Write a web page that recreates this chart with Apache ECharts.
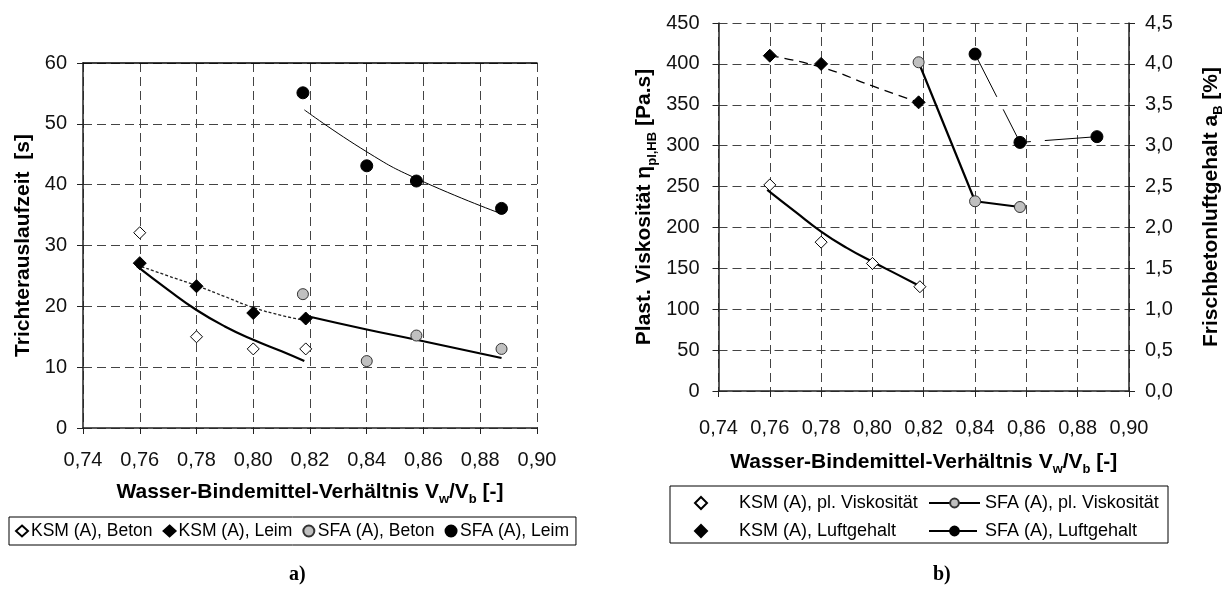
<!DOCTYPE html>
<html>
<head>
<meta charset="utf-8">
<script src="https://cdn.jsdelivr.net/npm/echarts@6/dist/echarts.min.js"></script>
<style>html,body{margin:0;padding:0;background:#fff;}#c{width:1226px;height:596px;}</style>
</head>
<body>
<div id="c"></div>
<script>
// ---- Data ----
// x positions (water-binder ratio)
var xKsm = [0.76, 0.78, 0.80, 0.8185];
var xSfa = [0.8175, 0.84, 0.8575, 0.8875];
var xKsmLuft = [0.76, 0.78, 0.818];
var xSfaVisk = [0.818, 0.84, 0.8575];
var xSfaLuft = [0.84, 0.8575, 0.8875];

// Chart a) Trichterauslaufzeit [s]
var ksmBeton = [32.1, 15.0, 13.0, 13.0];
var ksmLeim = [27.1, 23.3, 18.9, 18.0];
var sfaBeton = [22.0, 11.0, 15.2, 13.0];
var sfaLeim = [55.1, 43.1, 40.6, 36.1];

// trend lines a)
var xKsmTrend = [0.759, 0.77, 0.78, 0.79, 0.80, 0.81, 0.818];
var ksmBetonTrend = [26.6, 22.7, 19.4, 16.7, 14.5, 12.6, 11.0];
var ksmLeimTrend = [26.8, 25.0, 23.4, 21.6, 19.8, 18.5, 17.7];
var xSfaTrend = [0.818, 0.84, 0.8575, 0.8875];
var sfaBetonTrend = [18.5, 16.2, 14.5, 11.5];
var sfaLeimTrend = [52.3, 45.4, 41.0, 35.2];

// Chart b)
var ksmVisk = [252, 182, 156, 127.5];
var ksmViskTrend = [246, 219, 195, 175, 158, 142, 129];
var ksmLuft = [4.1, 4.0, 3.53];
var xKsmLuftTrend = [0.76, 0.78, 0.80, 0.818];
var ksmLuftTrend = [4.1, 3.96, 3.73, 3.53];
var sfaVisk = [402, 232, 225];
var sfaLuft = [4.12, 3.04, 3.11];

// tick settings
var xMin = 0.74, xMax = 0.90, xStep = 0.02;
var yAMax = 60, yAStep = 10;
var yBMax = 450, yBStep = 50;
var yB2Max = 4.5, yB2Step = 0.5;

function pairs(xs, ys) { return xs.map(function (x, i) { return [x, ys[i]]; }); }

var FONT = "'Liberation Sans', Arial, sans-serif";
var fmtX = function (v) { return v.toFixed(2).replace('.', ','); };
var fmtY1 = function (v) { return v.toFixed(1).replace('.', ','); };

var subRich = {
  s: { fontSize: 13, fontWeight: 'bold', fontFamily: FONT, color: '#000', verticalAlign: 'bottom', lineHeight: 16 }
};
var nameStyle = { fontSize: 21, fontWeight: 'bold', fontFamily: FONT, color: '#000', lineHeight: 28, rich: subRich };

var gridLine = { show: true, lineStyle: { color: '#444', type: [9, 5], width: 1 } };
var tickFont = { fontSize: 20, fontFamily: FONT, color: '#111' };

function xAxisDef(gridIndex, nameGap, labelMargin) {
  return {
    type: 'value', gridIndex: gridIndex, min: xMin, max: xMax, interval: xStep,
    name: 'Wasser-Bindemittel-Verhältnis V{s|w}/V{s|b} [-]',
    nameLocation: 'middle', nameGap: nameGap, nameTextStyle: nameStyle,
    axisLine: { show: true, onZero: false, lineStyle: { color: '#222', width: 1.5 } },
    axisTick: { show: true, length: 6, lineStyle: { color: '#222' } },
    axisLabel: Object.assign({ formatter: fmtX, margin: labelMargin, showMinLabel: true, showMaxLabel: true }, tickFont),
    splitLine: gridLine
  };
}

var option = {
  animation: false,
  backgroundColor: '#fff',
  grid: [
    { left: 83, top: 63, width: 454, height: 365 },
    { left: 718.5, top: 23, width: 414.5, height: 368 }
  ],
  xAxis: [
    xAxisDef(0, 50, 22),
    xAxisDef(1, 57, 27),
    { type: 'value', gridIndex: 0, position: 'top', min: xMin, max: xMax, interval: xStep,
      axisLine: { show: true, onZero: false, lineStyle: { color: '#000', width: 1.5 } },
      axisTick: { show: false }, axisLabel: { show: false }, splitLine: { show: false } }
  ],
  yAxis: [
    { type: 'value', gridIndex: 0, min: 0, max: yAMax, interval: yAStep,
      name: 'Trichterauslaufzeit  [s]', nameLocation: 'middle', nameRotate: 90, nameGap: 46, nameTextStyle: nameStyle,
      axisLine: { show: true, lineStyle: { color: '#222', width: 1.5 } },
      axisTick: { show: true, length: 6, lineStyle: { color: '#222' } },
      axisLabel: Object.assign({ margin: 16 }, tickFont),
      splitLine: gridLine },
    { type: 'value', gridIndex: 1, min: 0, max: yBMax, interval: yBStep,
      name: 'Plast. Viskosität η{s|pl,HB} [Pa.s]', nameLocation: 'middle', nameRotate: 90, nameGap: 60, nameTextStyle: nameStyle,
      axisLine: { show: true, lineStyle: { color: '#222', width: 1.5 } },
      axisTick: { show: true, length: 6, lineStyle: { color: '#222' } },
      axisLabel: Object.assign({ margin: 19 }, tickFont),
      splitLine: gridLine },
    { type: 'value', gridIndex: 1, position: 'right', min: 0, max: yB2Max, interval: yB2Step,
      name: 'Frischbetonluftgehalt a{s|B} [%]', nameLocation: 'middle', nameRotate: 90, nameGap: 68, nameTextStyle: nameStyle,
      axisLine: { show: true, lineStyle: { color: '#222', width: 1.5 } },
      axisTick: { show: true, length: 6, lineStyle: { color: '#222' } },
      axisLabel: Object.assign({ formatter: fmtY1, margin: 16 }, tickFont),
      splitLine: { show: false } }
  ],
  legend: [
    { data: ['KSM (A), Beton', 'KSM (A), Leim', 'SFA (A), Beton', 'SFA (A), Leim'],
      orient: 'horizontal', left: 9, top: 517, padding: [5, 7, 5, 6], itemGap: 10, itemWidth: 12, itemHeight: 11,
      borderColor: '#000', borderWidth: 1, borderRadius: 0,
      textStyle: { fontSize: 17.5, fontFamily: FONT, color: '#000', padding: [0, 0, 0, -2] } },
    { data: ['KSM (A), pl. Viskosität', 'KSM (A), Luftgehalt'],
      orient: 'vertical', left: 689, top: 488, itemGap: 8, itemWidth: 12, itemHeight: 12,
      textStyle: { fontSize: 18, fontFamily: FONT, color: '#000', lineHeight: 20, padding: [0, 0, 0, 27] } },
    { data: ['SFA (A), pl. Viskosität', 'SFA (A), Luftgehalt'],
      orient: 'vertical', left: 923, top: 488, itemGap: 8, itemWidth: 51, itemHeight: 11,
      textStyle: { fontSize: 18, fontFamily: FONT, color: '#000', lineHeight: 20 } }
  ],
  graphic: [
    { type: 'rect', shape: { x: 670, y: 486, width: 498, height: 57 }, style: { fill: 'none', stroke: '#000', lineWidth: 1 }, z: 100 },
    { type: 'text', left: 289, top: 565, style: { text: 'a)', font: "bold 20px 'Liberation Serif', 'Times New Roman', serif", fill: '#000' } },
    { type: 'text', left: 933, top: 565, style: { text: 'b)', font: "bold 20px 'Liberation Serif', 'Times New Roman', serif", fill: '#000' } }
  ],
  series: [
    // ---- chart a) trend lines ----
    { type: 'line', xAxisIndex: 0, yAxisIndex: 0, data: pairs(xKsmTrend, ksmBetonTrend), smooth: true, showSymbol: false, silent: true, z: 2,
      lineStyle: { color: '#000', width: 2.2 } },
    { type: 'line', xAxisIndex: 0, yAxisIndex: 0, data: pairs(xKsmTrend, ksmLeimTrend), smooth: true, showSymbol: false, silent: true, z: 2,
      lineStyle: { color: '#222', width: 1.3, type: [3, 2] } },
    { type: 'line', xAxisIndex: 0, yAxisIndex: 0, data: pairs(xSfaTrend, sfaBetonTrend), smooth: true, showSymbol: false, silent: true, z: 2,
      lineStyle: { color: '#000', width: 2.2 } },
    { type: 'line', xAxisIndex: 0, yAxisIndex: 0, data: pairs(xSfaTrend, sfaLeimTrend), smooth: true, showSymbol: false, silent: true, z: 2,
      lineStyle: { color: '#000', width: 1 } },
    // ---- chart a) points ----
    { name: 'KSM (A), Beton', type: 'scatter', xAxisIndex: 0, yAxisIndex: 0, data: pairs(xKsm, ksmBeton), symbol: 'diamond', symbolSize: 12, z: 5,
      itemStyle: { color: '#fff', borderColor: '#000', borderWidth: 1, opacity: 1 } },
    { name: 'KSM (A), Leim', type: 'scatter', xAxisIndex: 0, yAxisIndex: 0, data: pairs(xKsm, ksmLeim), symbol: 'diamond', symbolSize: 13, z: 5,
      itemStyle: { color: '#000', borderColor: '#000', borderWidth: 1, opacity: 1 } },
    { name: 'SFA (A), Beton', type: 'scatter', xAxisIndex: 0, yAxisIndex: 0, data: pairs(xSfa, sfaBeton), symbol: 'circle', symbolSize: 11, z: 5,
      itemStyle: { color: '#c0c0c0', borderColor: '#333', borderWidth: 1, opacity: 1 } },
    { name: 'SFA (A), Leim', type: 'scatter', xAxisIndex: 0, yAxisIndex: 0, data: pairs(xSfa, sfaLeim), symbol: 'circle', symbolSize: 12, z: 5,
      itemStyle: { color: '#000', borderColor: '#000', borderWidth: 1, opacity: 1 } },

    // ---- chart b) ----
    { type: 'line', xAxisIndex: 1, yAxisIndex: 1, data: pairs(xKsmTrend, ksmViskTrend), smooth: true, showSymbol: false, silent: true, z: 2,
      lineStyle: { color: '#000', width: 2.2 } },
    { type: 'line', xAxisIndex: 1, yAxisIndex: 2, data: pairs(xKsmLuftTrend, ksmLuftTrend), smooth: true, showSymbol: false, silent: true, z: 2,
      lineStyle: { color: '#000', width: 1.3, type: [9, 6] } },
    { name: 'KSM (A), pl. Viskosität', type: 'scatter', xAxisIndex: 1, yAxisIndex: 1, data: pairs(xKsm, ksmVisk), symbol: 'diamond', symbolSize: 12, z: 5,
      itemStyle: { color: '#fff', borderColor: '#000', borderWidth: 1, opacity: 1 } },
    { name: 'KSM (A), Luftgehalt', type: 'scatter', xAxisIndex: 1, yAxisIndex: 2, data: pairs(xKsmLuft, ksmLuft), symbol: 'diamond', symbolSize: 13, z: 5,
      itemStyle: { color: '#000', borderColor: '#000', borderWidth: 1, opacity: 1 } },
    { name: 'SFA (A), pl. Viskosität', type: 'line', xAxisIndex: 1, yAxisIndex: 1, data: pairs(xSfaVisk, sfaVisk), symbol: 'circle', symbolSize: 11, z: 4,
      lineStyle: { color: '#000', width: 2.2 }, itemStyle: { color: '#c0c0c0', borderColor: '#333', borderWidth: 1 } },
    { name: 'SFA (A), Luftgehalt', type: 'line', xAxisIndex: 1, yAxisIndex: 2, data: pairs(xSfaLuft, sfaLuft), symbol: 'circle', symbolSize: 12, z: 4,
      lineStyle: { color: '#000', width: 1, type: [48, 14] }, itemStyle: { color: '#000', borderColor: '#000', borderWidth: 1 } }
  ]
};

var chart = echarts.init(document.getElementById('c'), null, { renderer: 'canvas' });
chart.setOption(option);
</script>
</body>
</html>
